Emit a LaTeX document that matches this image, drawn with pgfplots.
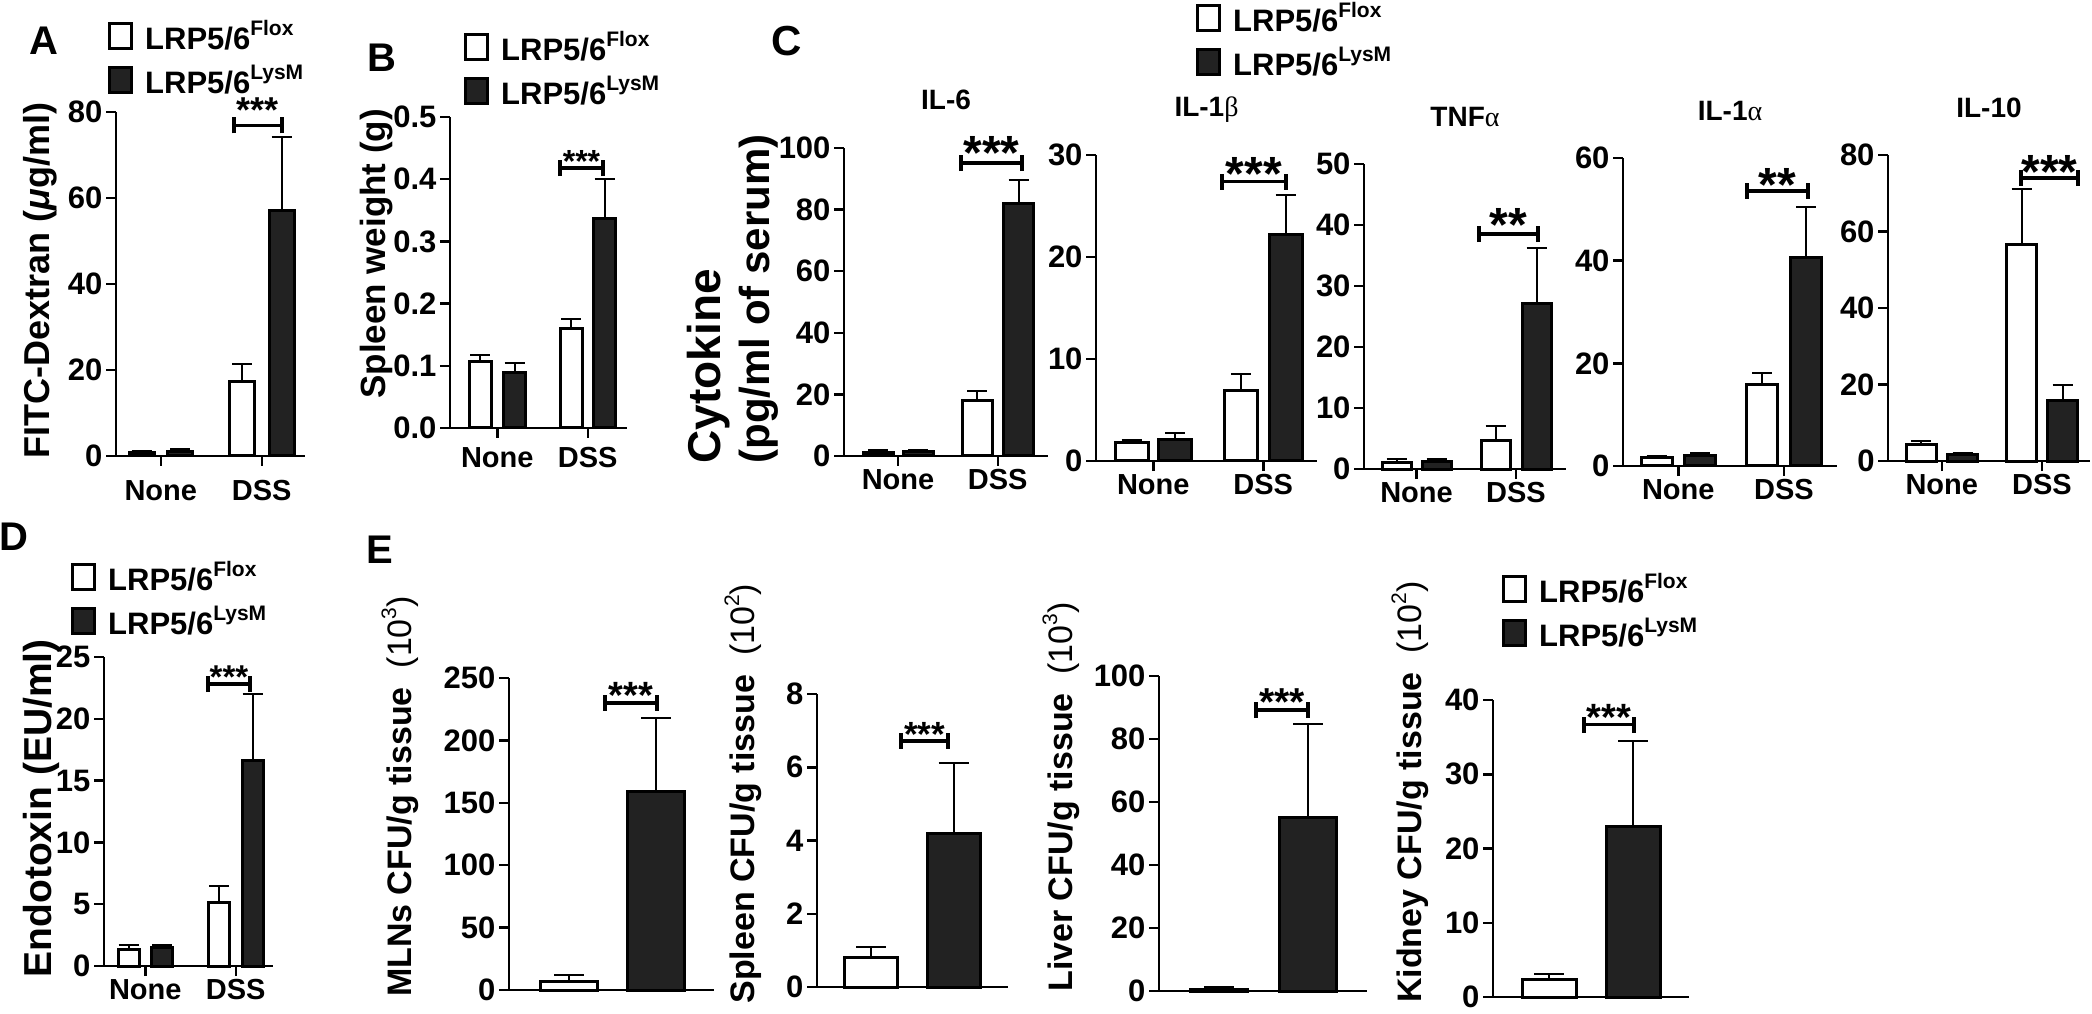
\documentclass[border=0pt]{standalone}
\usepackage{fontspec}
\setmainfont{Liberation Sans}
\newfontfamily\grk{Liberation Serif}
\usepackage{pgfplots}
\pgfplotsset{compat=1.18}
\definecolor{barblack}{RGB}{34,34,34}
\newcommand{\fs}[1]{\fontsize{#1}{#1}\selectfont}
\newcommand{\sups}[1]{\raisebox{0.45em}{\fontsize{21}{21}\selectfont #1}}

\pgfplotsset{
  gp/.style={
    scale only axis, clip=false, anchor=south west,
    axis lines*=left,
    axis line style={line width=2.5pt},
    every tick/.style={black, line width=2.5pt},
    tick align=outside, major tick length=10pt,
    xmin=0, ymin=0,
    yticklabel style={font=\fs{31}\bfseries},
    xticklabel style={font=\fs{29}\bfseries},
    ylabel style={font=\fs{36}\bfseries, anchor=center},
    title style={at={(0.5,1)}, anchor=base, yshift=32pt, font=\fs{28}\bfseries},
    /pgf/number format/assume math mode=true,
    scaled y ticks=false,
    legend style={draw=none, fill=none, inner sep=0pt, row sep=10pt,
      cells={anchor=base west},
      font=\fs{31}\bfseries, anchor=north west,
      /tikz/every odd column/.append style={column sep=10pt}},
  },
  flox/.style={ybar, bar shift=0pt, fill=white, draw=black, line width=3pt, forget plot,
    error bars/y dir=plus, error bars/y explicit,
    error bars/error bar style={line width=2pt, black},
    error bars/error mark options={rotate=90, mark size=10pt, line width=2pt, black}},
  lysm/.style={flox, fill=barblack},
  bigcap/.style={error bars/error mark options={rotate=90, mark size=15pt, line width=2pt, black}},
  elabel/.style={ylabel style={font=\fs{34}\bfseries}},
}

% legend: white and black squares
\newcommand{\leg}{%
  \addlegendimage{legend image code/.code={\draw[fill=white,draw=black,line width=3pt] (1.5pt,1pt) rectangle (23.5pt,26pt);}}
  \addlegendentry{LRP5/6\sups{Flox}}
  \addlegendimage{legend image code/.code={\draw[fill=barblack,draw=black,line width=3pt] (1.5pt,1pt) rectangle (23.5pt,26pt);}}
  \addlegendentry{LRP5/6\sups{LysM}}
}
% significance bracket: x1, x2, y, stars, font size, star shift
\newcommand{\sig}[6]{%
  \draw[line width=3.5pt] (axis cs:#1,#3) -- (axis cs:#2,#3);
  \draw[line width=3.5pt] ([yshift=-8pt]axis cs:#1,#3) -- ([yshift=8pt]axis cs:#1,#3);
  \draw[line width=3.5pt] ([yshift=-8pt]axis cs:#2,#3) -- ([yshift=8pt]axis cs:#2,#3);
  \node[anchor=base, font=\fs{#5}\bfseries, inner sep=0pt] at ([yshift=#6]axis cs:{(#1+#2)/2},#3) {#4};
}

\begin{document}
\begin{tikzpicture}
\path[use as bounding box] (0,0) rectangle (2092pt,1013pt);

\node[font=\fs{40}\bfseries] at (44pt,972pt) {A};
\node[font=\fs{40}\bfseries] at (382pt,955pt) {B};
\node[font=\fs{42}\bfseries] at (787pt,972pt) {C};
\node[font=\fs{40}\bfseries] at (14pt,476pt) {D};
\node[font=\fs{40}\bfseries] at (380pt,463pt) {E};

% ---- A
\begin{axis}[gp, at={(116pt,557pt)}, width=189pt, height=344pt, xmax=189, ymax=80,
  ytick={0,20,40,60,80}, xtick={44.75,145.75}, xticklabels={None,DSS},
  xticklabel style={yshift=-11pt},
  ylabel={FITC-Dextran ({\itshape μ}g/ml)},
  ylabel style={at={([xshift=-76pt]axis description cs:0,0.51)}},
  legend style={at={([xshift=-8pt,yshift=94pt]axis description cs:0,1)}}]
\addplot[flox, bar width=25] coordinates {(25.5,0.8) +- (0,0.3) (126,17.4) +- (0,3.9)};
\addplot[lysm, bar width=25] coordinates {(64,1.0) +- (0,0.7) (165.5,57.2) +- (0,17.1)};
\leg
\sig{118}{166}{76.9}{***}{36}{3pt}
\end{axis}

% ---- B
\begin{axis}[gp, at={(450pt,585pt)}, width=177pt, height=311pt, xmax=177, ymax=0.5,
  ytick={0,0.1,0.2,0.3,0.4,0.5}, xtick={47.25,137.75}, xticklabels={None,DSS},
  xticklabel style={yshift=-6pt},
  yticklabel style={/pgf/number format/.cd, fixed, fixed zerofill, precision=1},
  ylabel={Spleen weight (g)},
  ylabel style={font=\fs{35}\bfseries, at={([xshift=-73pt]axis description cs:0,0.56)}},
  legend style={at={([xshift=14pt,yshift=88pt]axis description cs:0,1)}}]
\addplot[flox, bar width=22] coordinates {(30,0.107) +- (0,0.011) (121,0.160) +- (0,0.015)};
\addplot[lysm, bar width=22] coordinates {(64.5,0.089) +- (0,0.016) (154.5,0.337) +- (0,0.063)};
\leg
\sig{110}{153}{0.418}{***}{32}{-4pt}
\end{axis}

% ---- C: IL-6
\begin{axis}[gp, at={(844pt,557pt)}, width=204pt, height=308pt, xmax=204, ymax=100,
  ytick={0,20,40,60,80,100}, xtick={54,153.75}, xticklabels={None,DSS},
  title={IL-6},
  ylabel={{\fs{46}Cytokine}\\(pg/ml of serum)},
  ylabel style={align=left, font=\fontsize{42}{49}\selectfont\bfseries,
    at={([xshift=-111pt]axis description cs:0,0.51)}},
  legend style={at={([xshift=352pt,yshift=148pt]axis description cs:0,1)}}]
\addplot[flox, bar width=30] coordinates {(34,1.2) +- (0,0.7) (133,18.0) +- (0,3.2)};
\addplot[lysm, bar width=30] coordinates {(74,1.5) +- (0,0.5) (174.5,82.0) +- (0,7.5)};
\leg
\sig{117}{178}{95.1}{***}{48}{-6pt}
\end{axis}

% ---- C: IL-1beta
\begin{axis}[gp, at={(1096pt,552pt)}, width=221pt, height=306pt, xmax=221, ymax=30,
  ytick={0,10,20,30}, xtick={57.25,167.25}, xticklabels={None,DSS},
  title={IL-1{\grk\mdseries β}}]
\addplot[flox, bar width=33] coordinates {(35.5,1.8) +- (0,0.3) (145,6.9) +- (0,1.6)};
\addplot[lysm, bar width=33] coordinates {(79,2.1) +- (0,0.6) (189.5,22.2) +- (0,3.9)};
\sig{126}{190}{27.4}{***}{48}{-9pt}
\end{axis}

% ---- C: TNFalpha
\begin{axis}[gp, at={(1364pt,544pt)}, width=202pt, height=305pt, xmax=202, ymax=50,
  ytick={0,10,20,30,40,50}, xtick={52.5,152}, xticklabels={None,DSS},
  title={TNF{\grk\mdseries α}}]
\addplot[flox, bar width=29] coordinates {(32.5,1.0) +- (0,0.7) (131.5,4.6) +- (0,2.4)};
\addplot[lysm, bar width=29] coordinates {(72.5,1.2) +- (0,0.5) (172.5,27.1) +- (0,9.2)};
\sig{115}{174}{38.5}{**}{48}{-7pt}
\end{axis}

% ---- C: IL-1alpha
\begin{axis}[gp, at={(1623pt,547pt)}, width=214pt, height=308pt, xmax=214, ymax=60,
  ytick={0,20,40,60}, xtick={55.25,161}, xticklabels={None,DSS},
  title={IL-1{\grk\mdseries α}}]
\addplot[flox, bar width=31] coordinates {(33.5,1.6) +- (0,0.4) (139,15.8) +- (0,2.4)};
\addplot[lysm, bar width=31] coordinates {(77,2.0) +- (0,0.6) (183,40.7) +- (0,9.8)};
\sig{124}{185}{53.6}{**}{48}{-11pt}
\end{axis}

% ---- C: IL-10
\begin{axis}[gp, at={(1888pt,552pt)}, width=202pt, height=306pt, xmax=202, ymax=80,
  ytick={0,20,40,60,80}, xtick={53.75,154}, xticklabels={None,DSS},
  title={IL-10}]
\addplot[flox, bar width=30] coordinates {(33,4.4) +- (0,0.9) (133.5,56.7) +- (0,14.4)};
\addplot[lysm, bar width=30] coordinates {(74.5,1.7) +- (0,0.5) (174.5,15.8) +- (0,4.0)};
\sig{133}{190}{74.0}{***}{48}{-11pt}
\end{axis}

% ---- D
\begin{axis}[gp, at={(104pt,47pt)}, width=169pt, height=309pt, xmax=169, ymax=25,
  ytick={0,5,10,15,20,25}, xtick={41.25,131.75}, xticklabels={None,DSS},
  ylabel={Endotoxin (EU/ml)},
  ylabel style={font=\fs{39}\bfseries, at={([xshift=-63pt]axis description cs:0,0.51)}},
  legend style={at={([xshift=-33pt,yshift=98pt]axis description cs:0,1)}}]
\addplot[flox, bar width=21] coordinates {(24.5,1.3) +- (0,0.4) (115,5.1) +- (0,1.4)};
\addplot[lysm, bar width=21] coordinates {(58,1.5) +- (0,0.2) (148.5,16.6) +- (0,5.4)};
\leg
\sig{104}{146}{22.8}{***}{33}{-4pt}
\end{axis}

% ---- E: MLNs
\begin{axis}[gp, elabel, at={(509pt,23pt)}, width=205pt, height=312pt, xmax=205, ymax=250,
  ytick={0,50,100,150,200,250}, xtick=\empty,
  ylabel={MLNs CFU/g tissue\ \ {\mdseries (10\sups{3})}},
  ylabel style={at={([xshift=-109pt]axis description cs:0,0.62)}}]
\addplot[flox, bigcap, bar width=57] coordinates {(60,7.2) +- (0,4.8)};
\addplot[lysm, bigcap, bar width=57] coordinates {(147,159) +- (0,59)};
\sig{96}{148}{230}{***}{38}{-6pt}
\end{axis}

% ---- E: Spleen
\begin{axis}[gp, elabel, at={(817pt,26pt)}, width=191pt, height=293pt, xmax=191, ymax=8,
  ytick={0,2,4,6,8}, xtick=\empty,
  ylabel={Spleen CFU/g tissue\ \ {\mdseries (10\sups{2})}},
  ylabel style={at={([xshift=-74pt]axis description cs:0,0.66)}}]
\addplot[flox, bigcap, bar width=53] coordinates {(54,0.8) +- (0,0.28)};
\addplot[lysm, bigcap, bar width=53] coordinates {(136.5,4.2) +- (0,1.92)};
\sig{84}{131}{6.72}{***}{35}{-6pt}
\end{axis}

% ---- E: Liver
\begin{axis}[gp, elabel, at={(1159pt,22pt)}, width=208pt, height=315pt, xmax=208, ymax=100,
  ytick={0,20,40,60,80,100}, xtick=\empty,
  ylabel={Liver CFU/g tissue\ \ {\mdseries (10\sups{3})}},
  ylabel style={at={([xshift=-98pt]axis description cs:0,0.616)}}]
\addplot[flox, bigcap, bar width=57] coordinates {(60,0.5) +- (0,0.8)};
\addplot[lysm, bigcap, bar width=57] coordinates {(149,55) +- (0,29.7)};
\sig{97}{149}{89.2}{***}{39}{-5pt}
\end{axis}

% ---- E: Kidney
\begin{axis}[gp, elabel, at={(1493pt,16pt)}, width=196pt, height=297pt, xmax=196, ymax=40,
  ytick={0,10,20,30,40}, xtick=\empty,
  ylabel={Kidney CFU/g tissue\ \ {\mdseries (10\sups{2})}},
  ylabel style={at={([xshift=-83pt]axis description cs:0,0.69)}},
  legend style={at={([xshift=9pt,yshift=129pt]axis description cs:0,1)}}]
\addplot[flox, bigcap, bar width=54] coordinates {(56,2.4) +- (0,0.7)};
\addplot[lysm, bigcap, bar width=54] coordinates {(140,22.9) +- (0,11.6)};
\leg
\sig{91}{141}{36.7}{***}{38}{-6pt}
\end{axis}
\end{tikzpicture}
\end{document}
